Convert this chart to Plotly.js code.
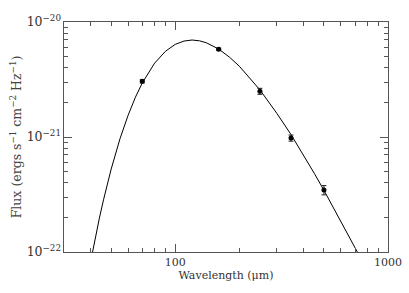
<!DOCTYPE html>
<html>
<head>
<meta charset="utf-8">
<script src="https://cdn.plot.ly/plotly-3.0.1.min.js"></script>
<style>html,body{margin:0;padding:0;background:#fff;}#chart{width:409px;height:293px;}</style>
</head>
<body>
<div id="chart"></div>
<script>
// Observed photometry (wavelength in micron, flux in erg s^-1 cm^-2 Hz^-1)
const obsWavelength = [70, 160, 250, 350, 500];
const obsFlux = [3.05e-21, 5.8e-21, 2.5e-21, 9.8e-22, 3.46e-22];
const obsError = [0.1e-21, 0.12e-21, 0.15e-21, 0.06e-21, 0.032e-21];

// Fitted curve
const fitWavelength = [40, 41, 42, 44, 46, 50, 55, 60, 65, 70, 80, 90, 100, 110, 120, 130, 140, 160, 180, 200, 250, 300, 350, 400, 450, 500, 600, 700, 750];
const fitFlux = [8.2e-23, 1.04e-22, 1.30e-22, 1.97e-22, 2.84e-22, 5.27e-22, 9.67e-22, 1.54e-21, 2.22e-21, 2.95e-21, 4.39e-21, 5.57e-21, 6.39e-21, 6.83e-21, 6.97e-21, 6.86e-21, 6.60e-21, 5.82e-21, 4.94e-21, 4.13e-21, 2.57e-21, 1.61e-21, 1.05e-21, 7.01e-22, 4.84e-22, 3.44e-22, 1.87e-22, 1.09e-22, 8.6e-23];

const xTitle = 'Wavelength (\u03bcm)';
const yTitle = 'Flux (ergs s<sup>\u22121</sup> cm<sup>\u22122</sup> Hz<sup>\u22121</sup>)';

const fam = 'DejaVu Serif, Liberation Serif, serif';
const font = {family: fam, size: 11, color: '#333'};

const traces = [
  {x: fitWavelength, y: fitFlux, mode: 'lines', type: 'scatter',
   line: {color: '#000', width: 1}, hoverinfo: 'skip'},
  {x: obsWavelength, y: obsFlux, mode: 'markers', type: 'scatter',
   marker: {color: '#000', size: 5},
   error_y: {type: 'data', array: obsError, visible: true, color: '#222', thickness: 1, width: 2.5}}
];

const axisCommon = {
  type: 'log', showgrid: false, zeroline: false, showline: true, linecolor: '#555', linewidth: 1,
  mirror: 'allticks', ticks: 'inside', tickcolor: '#555', ticklen: 8, tickwidth: 1, dtick: 1,
  minor: {ticks: 'inside', ticklen: 4, tickcolor: '#555', showgrid: false},
  tickfont: font
};

const layout = {
  width: 409, height: 293,
  margin: {l: 64, r: 21, t: 22, b: 41},
  paper_bgcolor: '#fff', plot_bgcolor: '#fff',
  showlegend: false,
  font: font,
  xaxis: Object.assign({}, axisCommon, {
    range: [Math.log10(30), 3], exponentformat: 'none',
    title: {text: xTitle, font: font, standoff: 3}
  }),
  yaxis: Object.assign({}, axisCommon, {
    range: [-22, -20], exponentformat: 'power',
    tickfont: {family: fam, size: 10, color: '#333'},
    title: {text: yTitle, font: {family: fam, size: 12.5, color: '#444'}, standoff: 2}
  })
};

Plotly.newPlot('chart', traces, layout, {staticPlot: true, displayModeBar: false});
</script>
</body>
</html>
